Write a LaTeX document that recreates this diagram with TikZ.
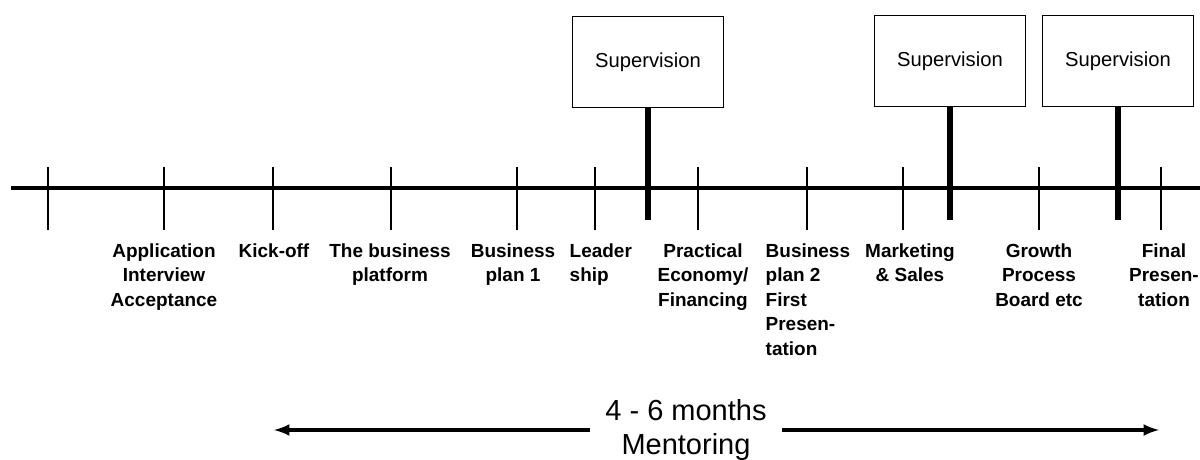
\documentclass[tikz,border=0pt]{standalone}
\usepackage{fontspec}
\setmainfont{Liberation Sans}
\begin{document}
\begin{tikzpicture}[>=latex,thick]
\def\ds{0.02}
\def\px#1#2{({(#1)*\ds},{-(#2)*\ds})}
\tikzset{
	etappe/.style={anchor=north,inner sep=0pt,align=center,font=\fontsize{10.8}{13.9}\selectfont\bfseries},
	aufsicht/.style={draw,line width=0.8pt,minimum width=3.02cm,minimum height=1.82cm,font=\fontsize{11.5}{14}\selectfont},
	pfahl/.style={line width=3.4pt},
}
\useasboundingbox \px{0}{0} rectangle \px{1200}{460};
% Zeitachse
\draw[line width=2.3pt] \px{11}{188} -- \px{1200}{188};
\foreach \x in {48,164,273,391,517,595,698,807,903,1039,1161}{
	\draw[line width=1.1pt] \px{\x}{167} -- \px{\x}{230};
}
% Supervision
\node[aufsicht] (sup1) at \px{648}{62} {Supervision};
\node[aufsicht] (sup2) at \px{950}{61} {Supervision};
\node[aufsicht] (sup3) at \px{1118}{61} {Supervision};
\path \px{648}{220} coordinate (p1);
\path \px{950}{220} coordinate (p2);
\path \px{1118}{220} coordinate (p3);
\draw[pfahl] (sup1.south) -- (p1);
\draw[pfahl] (sup2.south) -- (p2);
\draw[pfahl] (sup3.south) -- (p3);
% Etappen
\node[etappe] (l1) at \px{164}{243} {Application\\Interview\\Acceptance};
\node[etappe] (l2) at \px{274}{243} {Kick-off};
\node[etappe] (l3) at \px{390}{243} {The business\\platform};
\node[etappe] (l4) at \px{513}{243} {Business\\plan 1};
\node[etappe,anchor=north west,align=left] (l5) at \px{569}{243} {Leader\\ship};
\node[etappe] (l6) at \px{703}{243} {Practical\\Economy/\\Financing};
\node[etappe,anchor=north west,align=left] (l7) at \px{765}{243} {Business\\plan 2\\First\\Presen-\\tation};
\node[etappe] (l8) at \px{910}{243} {Marketing\\\& Sales};
\node[etappe] (l9) at \px{1039}{243} {Growth\\Process\\Board etc};
\node[etappe] (l10) at \px{1164}{243} {Final\\Presen-\\tation};
% Mentoring
\node[inner xsep=0.3cm,align=center,font=\fontsize{16.5}{19.3}\selectfont] (mtext) at \px{686}{430} {4 - 6 months\\Mentoring};
\path \px{274}{430} coordinate (mstart);
\path \px{1159}{430} coordinate (mende);
\draw[->,line width=2pt] (mtext.west) -- (mstart);
\draw[->,line width=2pt] (mtext.east) -- (mende);
\end{tikzpicture}
\end{document}
